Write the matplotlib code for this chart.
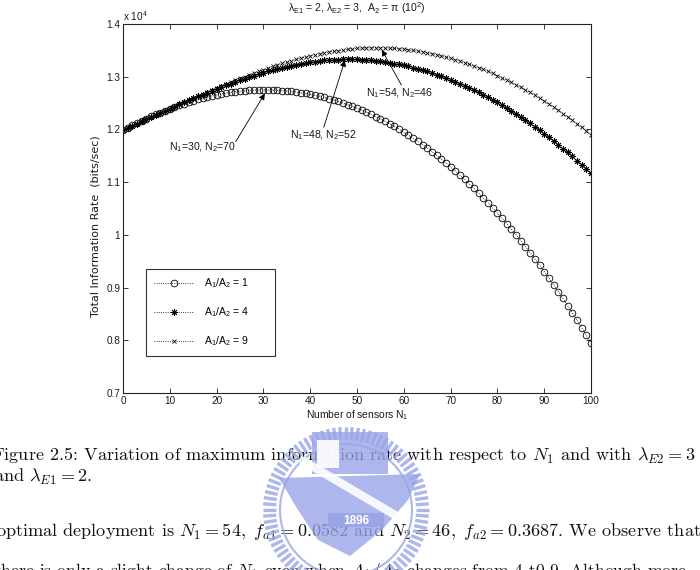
import numpy as np
import matplotlib
matplotlib.use('Agg')
import matplotlib.pyplot as plt
from matplotlib.ticker import FormatStrFormatter
from matplotlib.patches import Rectangle, Polygon, Circle

plt.rcParams['font.family'] = ['Liberation Sans', 'DejaVu Sans']
plt.rcParams['mathtext.fontset'] = 'custom'
plt.rcParams['mathtext.rm'] = 'Liberation Sans'
plt.rcParams['mathtext.it'] = 'Liberation Sans:italic'
plt.rcParams['mathtext.sf'] = 'Liberation Sans'

# number of sensors N1 (0..100), rates in units of 1e4 bits/sec
n1 = np.arange(0, 101)

rate_r1 = [1.1990, 1.2036, 1.2080, 1.2123, 1.2165, 1.2206, 1.2246, 1.2284, 1.2321, 1.2357,
           1.2392, 1.2425, 1.2456, 1.2487, 1.2515, 1.2543, 1.2568, 1.2592, 1.2615, 1.2636,
           1.2655, 1.2673, 1.2689, 1.2703, 1.2715, 1.2726, 1.2734, 1.2741, 1.2746, 1.2749,
           1.2750, 1.2749, 1.2747, 1.2743, 1.2737, 1.2729, 1.2720, 1.2709, 1.2696, 1.2682,
           1.2665, 1.2647, 1.2628, 1.2606, 1.2583, 1.2557, 1.2530, 1.2501, 1.2470, 1.2438,
           1.2403, 1.2366, 1.2328, 1.2288, 1.2245, 1.2201, 1.2155, 1.2106, 1.2056, 1.2004,
           1.1949, 1.1893, 1.1834, 1.1774, 1.1711, 1.1646, 1.1579, 1.1510, 1.1439, 1.1366,
           1.1290, 1.1213, 1.1133, 1.1051, 1.0966, 1.0880, 1.0791, 1.0700, 1.0607, 1.0511,
           1.0413, 1.0313, 1.0210, 1.0106, 0.9998, 0.9889, 0.9777, 0.9662, 0.9545, 0.9426,
           0.9304, 0.9180, 0.9054, 0.8925, 0.8793, 0.8659, 0.8522, 0.8383, 0.8241, 0.8097,
           0.7950]

rate_r4 = [1.1991, 1.2031, 1.2072, 1.2112, 1.2153, 1.2193, 1.2234, 1.2274, 1.2314, 1.2354,
           1.2394, 1.2434, 1.2473, 1.2511, 1.2550, 1.2588, 1.2625, 1.2662, 1.2699, 1.2734,
           1.2769, 1.2804, 1.2838, 1.2871, 1.2903, 1.2934, 1.2965, 1.2994, 1.3023, 1.3050,
           1.3077, 1.3102, 1.3126, 1.3150, 1.3172, 1.3192, 1.3212, 1.3230, 1.3246, 1.3262,
           1.3276, 1.3288, 1.3299, 1.3308, 1.3316, 1.3322, 1.3326, 1.3329, 1.3330, 1.3329,
           1.3327, 1.3323, 1.3317, 1.3310, 1.3301, 1.3291, 1.3279, 1.3265, 1.3250, 1.3233,
           1.3215, 1.3195, 1.3173, 1.3150, 1.3125, 1.3099, 1.3071, 1.3041, 1.3010, 1.2977,
           1.2943, 1.2907, 1.2869, 1.2830, 1.2789, 1.2747, 1.2703, 1.2657, 1.2610, 1.2561,
           1.2511, 1.2459, 1.2405, 1.2350, 1.2293, 1.2235, 1.2175, 1.2113, 1.2050, 1.1985,
           1.1919, 1.1851, 1.1781, 1.1710, 1.1637, 1.1563, 1.1487, 1.1409, 1.1330, 1.1249,
           1.1167]

rate_r9 = [1.1990, 1.2030, 1.2070, 1.2110, 1.2150, 1.2190, 1.2231, 1.2271, 1.2312, 1.2352,
           1.2393, 1.2433, 1.2474, 1.2514, 1.2554, 1.2593, 1.2633, 1.2672, 1.2710, 1.2749,
           1.2786, 1.2824, 1.2861, 1.2897, 1.2933, 1.2968, 1.3003, 1.3036, 1.3070, 1.3102,
           1.3133, 1.3164, 1.3194, 1.3223, 1.3251, 1.3278, 1.3303, 1.3328, 1.3352, 1.3375,
           1.3396, 1.3416, 1.3435, 1.3453, 1.3469, 1.3484, 1.3497, 1.3509, 1.3520, 1.3529,
           1.3536, 1.3542, 1.3547, 1.3549, 1.3550, 1.3549, 1.3547, 1.3543, 1.3538, 1.3531,
           1.3522, 1.3512, 1.3500, 1.3487, 1.3472, 1.3456, 1.3438, 1.3418, 1.3397, 1.3375,
           1.3350, 1.3325, 1.3297, 1.3268, 1.3238, 1.3206, 1.3172, 1.3137, 1.3101, 1.3063,
           1.3023, 1.2981, 1.2938, 1.2894, 1.2848, 1.2800, 1.2751, 1.2701, 1.2648, 1.2595,
           1.2539, 1.2482, 1.2424, 1.2364, 1.2302, 1.2239, 1.2174, 1.2108, 1.2040, 1.1971,
           1.1900]

series_labels = ['A$_{\\mathrm{1}}$/A$_{\\mathrm{2}}$ = 1',
                 'A$_{\\mathrm{1}}$/A$_{\\mathrm{2}}$ = 4',
                 'A$_{\\mathrm{1}}$/A$_{\\mathrm{2}}$ = 9']

# annotations: text, text position, arrow tail, arrow tip (data units)
notes = [('N$_{\\mathrm{1}}$=30, N$_{\\mathrm{2}}$=70', (17.1, 1.167), (24.1, 1.177), (30.3, 1.268)),
         ('N$_{\\mathrm{1}}$=48, N$_{\\mathrm{2}}$=52', (42.9, 1.189), (42.9, 1.204), (47.4, 1.331)),
         ('N$_{\\mathrm{1}}$=54, N$_{\\mathrm{2}}$=46', (59.2, 1.269), (59.5, 1.284), (55.3, 1.351))]

W, H = 700, 570
fig = plt.figure(figsize=(7, 5.7), dpi=100)
fig.patch.set_facecolor('white')

ax = fig.add_axes([123 / W, 1 - 393 / H, 468 / W, 369 / H])
txt = '#1a1a1a'

ax.plot(n1, rate_r1, ls=':', lw=0.6, color='k', marker='o', ms=4.8, mfc='none',
        mec='k', mew=0.6, label=series_labels[0])
ax.plot(n1, rate_r4, ls=':', lw=0.6, color='k', marker=(8, 2, 0), ms=4.8,
        mec='k', mew=0.7, label=series_labels[1])
ax.plot(n1, rate_r9, ls=':', lw=0.6, color='k', marker='x', ms=3.5,
        mec='k', mew=0.6, label=series_labels[2])

ax.set_xlim(0, 100)
ax.set_ylim(0.7, 1.4)
ax.set_xticks(np.arange(0, 101, 10))
ax.set_yticks(np.arange(0.7, 1.401, 0.1))
ax.yaxis.set_major_formatter(FormatStrFormatter('%g'))
ax.tick_params(direction='in', top=True, right=True, length=3.5, width=0.6,
               labelsize=7.2, colors=txt, pad=2)
for s in ax.spines.values():
    s.set_linewidth(0.8)
    s.set_color('#222222')

for label, tpos, tail, tip in notes:
    ax.text(tpos[0], tpos[1], label, fontsize=7.6, color=txt, ha='center', va='center')
    ax.annotate('', xy=tip, xytext=tail,
                arrowprops=dict(arrowstyle='-|>', color='k', lw=0.6,
                                mutation_scale=9, shrinkA=0, shrinkB=0))

leg = ax.legend(loc='lower left', bbox_to_anchor=(23 / 468, 37 / 369, 129 / 468, 86 / 369),
                mode='expand', borderaxespad=0,
                fontsize=7.5, fancybox=False, edgecolor='black', handlelength=3.9,
                handletextpad=0.9, labelspacing=1.45, borderpad=0.75, numpoints=1)
leg.get_frame().set_linewidth(0.8)

fig.text(357 / W, 1 - 8 / H,
         'λ$_{\\mathrm{E1}}$ = 2, λ$_{\\mathrm{E2}}$ = 3,  A$_{\\mathrm{2}}$ = π (10$^{\\mathrm{2}}$)',
         ha='center', va='center', fontsize=7.6, color=txt)
fig.text(123 / W, 1 - 16 / H, 'x 10$^{\\mathrm{4}}$', ha='left', va='center', fontsize=7.2, color=txt)
fig.text(357 / W, 1 - 415 / H, 'Number of sensors N$_{\\mathrm{1}}$', ha='center', va='center',
         fontsize=7.4, color=txt)
fig.text(96 / W, 1 - 226 / H, 'Total Information Rate  (bits/sec)', ha='center', va='center',
         rotation=90, fontsize=8, color=txt, family='DejaVu Sans')

# page text below the figure and the watermark, in pixel coordinates
ov = fig.add_axes([0, 0, 1, 1], zorder=-1)
ov.set_xlim(0, W)
ov.set_ylim(H, 0)
ov.axis('off')

caption = [(-8, 461, 13.1, 'Figure 2.5: Variation of maximum information rate with respect to $N_1$ and with $\\lambda_{E2} = 3$'),
           (-6, 482, 13.1, 'and $\\lambda_{E1} = 2$.'),
           (-4, 536, 13.1, 'optimal deployment is $N_1 = 54,\\ f_{a1} = 0.0582$ and $N_2 = 46,\\ f_{a2} = 0.3687$. We observe that'),
           (-6, 576, 12.7, 'there is only a slight change of $N_1$ even when $A_1/A_2$ changes from 4 t0 9. Although more')]
for x, y, size, s in caption:
    ov.text(x, y, s, fontsize=size, family='cmr10', math_fontfamily='cm', va='baseline',
            ha='left', color='#111111', zorder=2)

blue = '#9aa5e8'
cx, cy = 346, 510
for a in np.linspace(0, 2 * np.pi, 84, endpoint=False):
    ov.plot([cx + 70 * np.cos(a), cx + 83 * np.cos(a)], [cy + 70 * np.sin(a), cy + 83 * np.sin(a)],
            color=blue, lw=2.4, alpha=0.8, solid_capstyle='butt', zorder=3)
ov.add_patch(Circle((cx, cy), 66, fill=False, ec=blue, lw=1.5, alpha=0.8, zorder=3))
ov.add_patch(Rectangle((312, 432), 76, 42, fc=blue, ec='none', alpha=0.8, zorder=3))
ov.add_patch(Rectangle((317, 440), 22, 28, fc='white', ec='none', alpha=0.9, zorder=3))
ov.add_patch(Polygon([(279, 478), (420, 474), (408, 500), (382, 530), (350, 556), (318, 540), (298, 510)],
                     closed=True, fc=blue, ec='none', alpha=0.8, zorder=3))
ov.plot([305, 395], [462, 515], color='white', lw=6, alpha=0.9, zorder=3)
ov.add_patch(Rectangle((328, 513), 56, 14, fc=blue, ec='none', zorder=3))
ov.text(356, 520.5, '1896', color='white', fontsize=8.5, fontweight='bold', ha='center',
        va='center', zorder=4)

fig.savefig('out.png', dpi=100)
